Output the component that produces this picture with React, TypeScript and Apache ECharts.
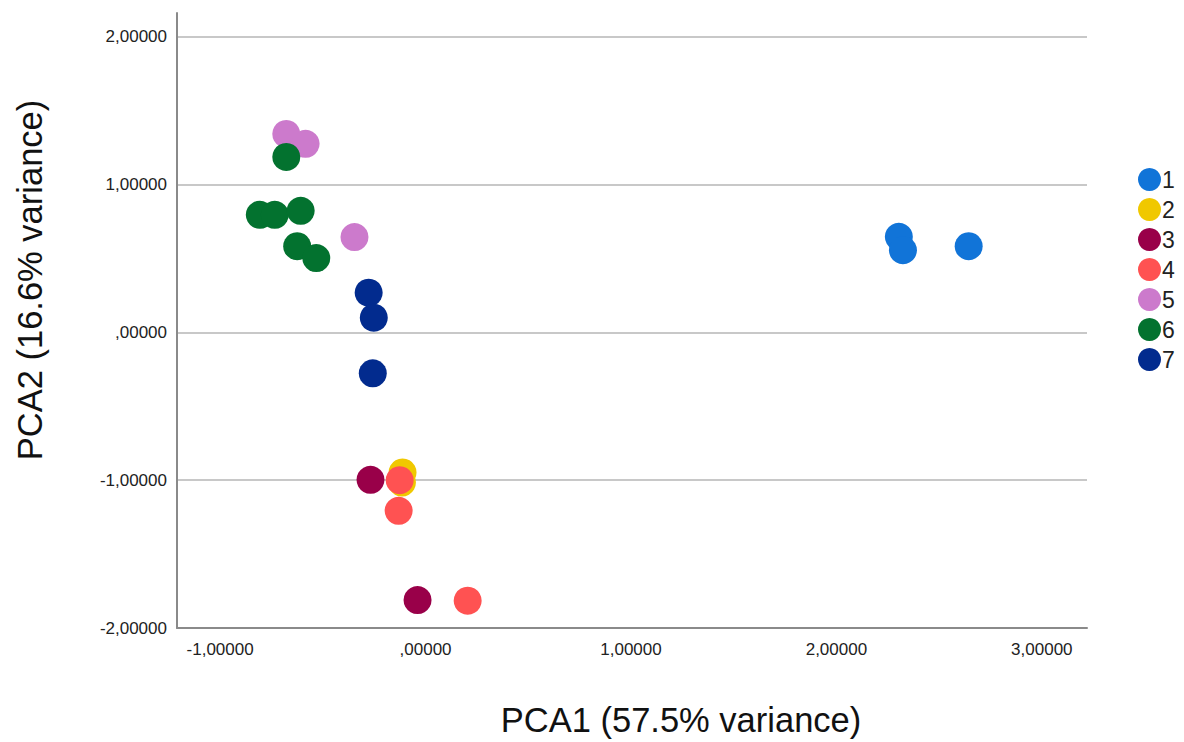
import React, { useEffect, useRef } from "react";
import * as echarts from "echarts";

const groups = ["1", "2", "3", "4", "5", "6", "7"];
const colors = ["#1174D8", "#F0C800", "#990049", "#FF5252", "#CC7ACC", "#03722F", "#022B8E"];

const g1: number[][] = [[2.304, 0.646], [2.324, 0.556], [2.644, 0.583]];
const g2: number[][] = [[-0.112, -0.948], [-0.115, -1.016]];
const g3: number[][] = [[-0.268, -0.998], [-0.039, -1.811]];
const g4: number[][] = [[-0.126, -1.0], [-0.131, -1.207], [0.205, -1.815]];
const g5: number[][] = [[-0.678, 1.342], [-0.584, 1.275], [-0.346, 0.644]];
const g6: number[][] = [[-0.678, 1.186], [-0.807, 0.795], [-0.734, 0.795], [-0.608, 0.822], [-0.625, 0.583], [-0.532, 0.502]];
const g7: number[][] = [[-0.277, 0.268], [-0.252, 0.099], [-0.257, -0.277]];
const groupData = [g1, g2, g3, g4, g5, g6, g7];

const xTitle = "PCA1 (57.5% variance)";
const yTitle = "PCA2 (16.6% variance)";

const fmt = (v: number) => {
  const s = Math.abs(v).toFixed(5).replace(".", ",");
  const body = s.startsWith("0,") ? s.slice(1) : s;
  return (v < 0 ? "-" : "") + body;
};

export default function App() {
  const ref = useRef<HTMLDivElement>(null);
  useEffect(() => {
    if (!ref.current) return;
    const chart = echarts.init(ref.current, undefined, { renderer: "svg" });
    chart.setOption({
      animation: false,
      backgroundColor: "#ffffff",
      grid: { left: 177, right: 97, top: 13, bottom: 114 },
      xAxis: {
        type: "value",
        min: -1.21,
        max: 3.22,
        splitLine: { show: false },
        axisTick: { show: false },
        axisLine: { show: true, onZero: false, lineStyle: { color: "#8a8a8a", width: 2 } },
        axisLabel: {
          showMinLabel: false,
          showMaxLabel: false,
          margin: 13,
          color: "#222",
          fontSize: 17,
          fontFamily: "Liberation Sans",
          formatter: (v: number) => fmt(v),
        },
      },
      yAxis: {
        type: "value",
        min: -2,
        max: 2.16,
        interval: 1,
        splitLine: { show: true, showMaxLine: false, lineStyle: { color: "#c8c8c8", width: 2 } },
        axisTick: { show: false },
        axisLine: { show: true, onZero: false, lineStyle: { color: "#8a8a8a", width: 2 } },
        axisLabel: {
          showMaxLabel: false,
          margin: 10,
          color: "#222",
          fontSize: 17,
          fontFamily: "Liberation Sans",
          formatter: (v: number) => fmt(v),
        },
      },
      legend: {
        orient: "vertical",
        left: 1138,
        top: 168,
        padding: 0,
        icon: "circle",
        itemWidth: 23,
        itemHeight: 23,
        itemGap: 7,
        textStyle: { fontSize: 23, color: "#222", fontFamily: "Liberation Sans", padding: [0, 0, 0, -4], lineHeight: 23, height: 23 },
        data: groups,
      },
      series: groups.map((g, i) => ({
        name: g,
        type: "scatter",
        symbol: "circle",
        symbolSize: 28,
        itemStyle: { color: colors[i], opacity: 1 },
        data: groupData[i],
      })),
      graphic: [
        {
          type: "text",
          x: 681,
          y: 720,
          style: {
            text: xTitle,
            fontSize: 34.5,
            fontFamily: "Liberation Sans",
            fill: "#111",
            align: "center",
            verticalAlign: "middle",
          },
        },
        {
          type: "text",
          x: 30,
          y: 280,
          rotation: Math.PI / 2,
          style: {
            text: yTitle,
            fontSize: 34.5,
            fontFamily: "Liberation Sans",
            fill: "#111",
            align: "center",
            verticalAlign: "middle",
          },
        },
      ],
    });
    return () => chart.dispose();
  }, []);
  return (
    <div
      ref={ref}
      style={{ position: "fixed", left: 0, top: 0, width: 1184, height: 742 }}
    />
  );
}
